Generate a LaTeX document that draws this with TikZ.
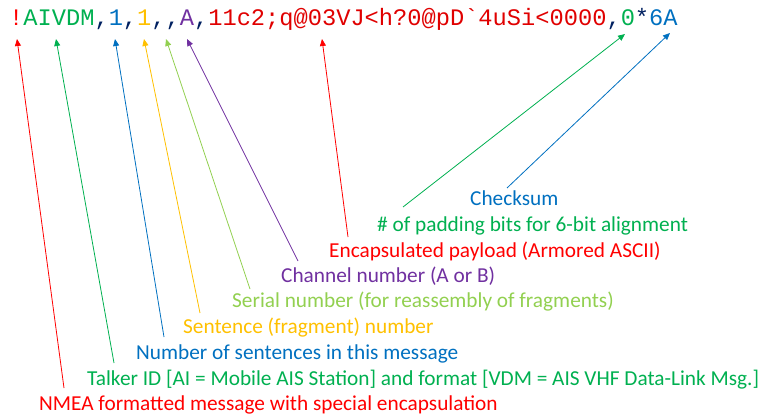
\documentclass[tikz,border=0pt]{standalone}
\usepackage{fontspec}
\setmainfont{Carlito}
\newfontfamily\msgfont{Liberation Mono}
\usetikzlibrary{arrows.meta}

\definecolor{cRed}{HTML}{FF0000}
\definecolor{cDarkRed}{HTML}{E00000}
\definecolor{cGreen}{HTML}{00B050}
\definecolor{cBlue}{HTML}{0070C0}
\definecolor{cGold}{HTML}{FFC000}
\definecolor{cLime}{HTML}{92D050}
\definecolor{cPurple}{HTML}{7030A0}
\definecolor{cNavy}{HTML}{002060}

\tikzset{
  label/.style={anchor=base west, inner sep=0pt, font=\fontsize{21.3}{24}\selectfont},
  pointer/.style={line width=0.8pt, -{Triangle[length=7pt,width=6pt]}},
}

\begin{document}
\begin{tikzpicture}[x=1pt, y=-1pt]
  \useasboundingbox (0,0) rectangle (761,417);

  % the AIVDM sentence
  \node[anchor=base west, inner sep=0pt, font=\msgfont\fontsize{23.7}{26}\selectfont] (msg) at (9,26)
    {\textcolor{cRed}{!}\textcolor{cGreen}{AIVDM}\textcolor{cNavy}{,}\textcolor{cBlue}{1}\textcolor{cNavy}{,}\textcolor{cGold}{1}\textcolor{cNavy}{,,}\textcolor{cPurple}{A}\textcolor{cNavy}{,}\textcolor{cDarkRed}{11c2;q@03VJ<h?0@pD`4uSi<0000}\textcolor{cNavy}{,}\textcolor{cGreen}{0}\textcolor{cNavy}{*}\textcolor{cBlue}{6A}};

  % points under the fields
  \coordinate (pStart)   at (17,39);
  \coordinate (pTalker)  at (56,39);
  \coordinate (pCount)   at (115,39);
  \coordinate (pFrag)    at (144,39);
  \coordinate (pSerial)  at (166,39);
  \coordinate (pChan)    at (187,39);
  \coordinate (pPayload) at (322,39);
  \coordinate (pFill)    at (625,34);
  \coordinate (pCheck)   at (670,33);

  % field descriptions
  \node[label, text=cBlue]   (lCheck)   at (470,205) {Checksum};
  \node[label, text=cGreen]  (lFill)    at (377,231) {\# of padding bits for 6-bit alignment};
  \node[label, text=cRed]    (lPayload) at (329,257) {Encapsulated payload (Armored ASCII)};
  \node[label, text=cPurple] (lChan)    at (281,282) {Channel number (A or B)};
  \node[label, text=cLime]   (lSerial)  at (232,307) {Serial number (for reassembly of fragments)};
  \node[label, text=cGold]   (lFrag)    at (183,333) {Sentence (fragment) number};
  \node[label, text=cBlue]   (lCount)   at (136,359) {Number of sentences in this message};
  \node[label, text=cGreen]  (lTalker)  at (87,385)  {Talker ID [AI = Mobile AIS Station] and format [VDM = AIS VHF Data-Link Msg.]};
  \node[label, text=cRed]    (lStart)   at (39,410)  {NMEA formatted message with special encapsulation};

  % pointers from descriptions to fields
  \draw[pointer, cRed]    ([xshift=25pt,yshift=22pt]lStart.base west)   -- (pStart);
  \draw[pointer, cGreen]  ([xshift=27pt,yshift=22pt]lTalker.base west)  -- (pTalker);
  \draw[pointer, cBlue]   ([xshift=28pt,yshift=22pt]lCount.base west)   -- (pCount);
  \draw[pointer, cGold]   ([xshift=17pt,yshift=20pt]lFrag.base west)    -- (pFrag);
  \draw[pointer, cLime]   ([xshift=18pt,yshift=18pt]lSerial.base west)  -- (pSerial);
  \draw[pointer, cPurple] ([xshift=17pt,yshift=21pt]lChan.base west)    -- (pChan);
  \draw[pointer, cRed]    ([xshift=19pt,yshift=20pt]lPayload.base west) -- (pPayload);
  \draw[pointer, cGreen]  ([xshift=26pt,yshift=24pt]lFill.base west)    -- (pFill);
  \draw[pointer, cBlue]   ([xshift=37pt,yshift=17pt]lCheck.base west)   -- (pCheck);
\end{tikzpicture}
\end{document}
